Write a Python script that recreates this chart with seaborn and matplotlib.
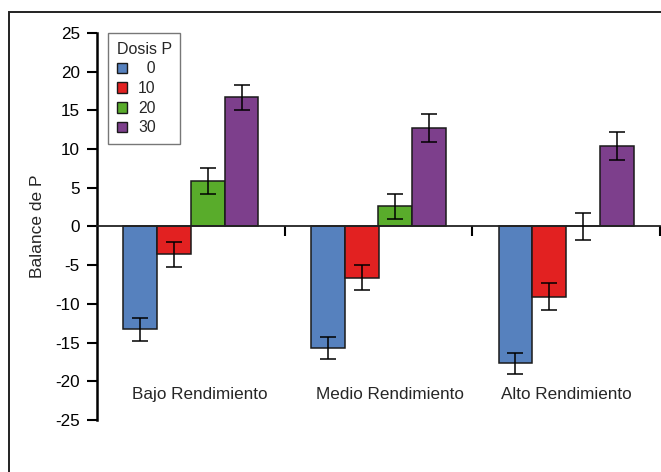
import matplotlib
matplotlib.use("Agg")
import matplotlib.pyplot as plt
import seaborn as sns
import pandas as pd
from matplotlib.patches import Rectangle

groups = ["Bajo Rendimiento", "Medio Rendimiento", "Alto Rendimiento"]
doses = ["0", "10", "20", "30"]
dose_labels = ["  0", "10", "20", "30"]
vals_0 = [-13.3, -15.7, -17.7]
vals_10 = [-3.6, -6.6, -9.1]
vals_20 = [5.85, 2.6, 0.0]
vals_30 = [16.7, 12.7, 10.4]
err_0 = [1.45, 1.4, 1.4]
err_10 = [1.6, 1.6, 1.75]
err_20 = [1.65, 1.65, 1.8]
err_30 = [1.6, 1.8, 1.8]
colors = ["#5681BE", "#E22121", "#59AC2B", "#7D3F8C"]
yticks = list(range(-25, 30, 5))

values = [vals_0, vals_10, vals_20, vals_30]
errors = [err_0, err_10, err_20, err_30]
rows = []
for d, vs in zip(doses, values):
    for g, v in zip(groups, vs):
        rows.append({"group": g, "dose": d, "value": v})
df = pd.DataFrame(rows)

sns.set_style("white")
plt.rcParams["font.family"] = ["Liberation Sans", "DejaVu Sans"]
plt.rcParams["axes.unicode_minus"] = False

fig = plt.figure(figsize=(6.61, 4.72), dpi=100)
ax = fig.add_axes([97 / 661, 1 - 420 / 472, (660 - 97) / 661, (420 - 33) / 472])

sns.barplot(data=df, x="group", y="value", hue="dose", order=groups, hue_order=doses,
            palette=colors, width=0.72, gap=0, edgecolor="#1a1a1a", linewidth=1.1,
            errorbar=None, saturation=1, ax=ax)

for cont, errs, vs in zip(ax.containers, errors, values):
    xs = [p.get_x() + p.get_width() / 2 for p in cont.patches]
    ax.errorbar(xs, vs, yerr=errs, fmt="none", ecolor="black", elinewidth=1.1,
                capsize=5.5, capthick=1.1, zorder=5)

ax.set_ylim(-25, 25)
ax.set_xlim(-0.5, 2.5)
ax.set_yticks(yticks)
ax.set_yticklabels([str(t) for t in yticks], fontsize=12.3)
ax.set_xticks([0.5, 1.5, 2.5])
ax.set_xticklabels([])
ax.tick_params(axis="y", direction="out", length=7, width=1.5, left=True, pad=5.5, colors="black")
ax.tick_params(axis="x", direction="out", length=7, width=1.5, bottom=True, colors="black")
ax.spines["top"].set_visible(False)
ax.spines["right"].set_visible(False)
ax.spines["left"].set_linewidth(1.8)
ax.spines["left"].set_color("black")
ax.spines["bottom"].set_position(("data", 0))
ax.spines["bottom"].set_linewidth(1.3)
ax.spines["bottom"].set_color("#222222")
ax.set_xlabel("")
ax.set_ylabel("Balance de P", fontsize=12.5)
ax.yaxis.set_label_coords(-0.092, 0.5)

label_x = [0.045, 1.06, 2.0]
for lx, g in zip(label_x, groups):
    ax.text(lx, -22.3, g, ha="center", va="baseline", fontsize=12.3)

leg = ax.legend(title="Dosis P", labels=dose_labels, loc="upper left",
                bbox_to_anchor=((108 - 97) / 563, 1.0), fontsize=11.3, title_fontsize=11.5,
                frameon=True, fancybox=False, handlelength=0.66, handleheight=0.66,
                handletextpad=0.7, labelspacing=0.3, borderpad=0.55, borderaxespad=0,
                alignment="left")
leg.get_frame().set_edgecolor("#555555")
leg.get_frame().set_linewidth(1.0)
for h in leg.legend_handles:
    h.set_edgecolor("#1a1a1a")
    h.set_linewidth(1.0)

fig.patches.append(Rectangle((9 / 661, -0.05), 1.2, 1 - 11.5 / 472 + 0.05,
                             transform=fig.transFigure, fill=False,
                             edgecolor="#222222", linewidth=1.4))

fig.savefig("out.png", dpi=100)
